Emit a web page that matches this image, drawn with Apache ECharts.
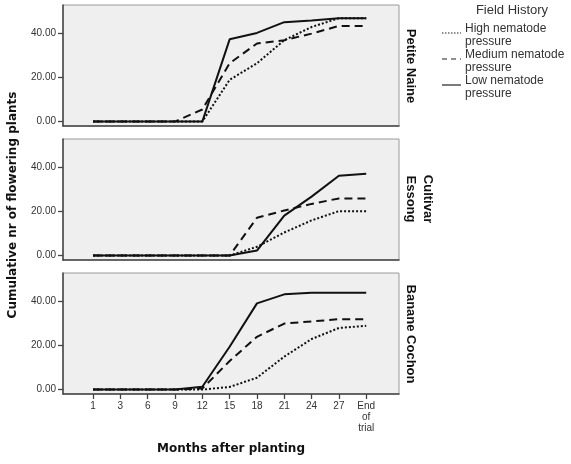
<!DOCTYPE html>
<html>
<head>
<meta charset="utf-8">
<script src="https://cdn.jsdelivr.net/npm/echarts@6/dist/echarts.min.js"></script>
<style>html,body{margin:0;padding:0;background:#fff}#c{width:571px;height:464px}</style>
</head>
<body>
<div id="c"></div>
<script>
var monthLabels = ['1','3','6','9','12','15','18','21','24','27','End\nof\ntrial'];
var yTicks = [0, 20, 40];
var cultivars = ['Petite Naine', 'Cultivar\nEssong', 'Banane Cochon'];
var historyNames = ['High nematode pressure', 'Medium nematode pressure', 'Low nematode pressure'];
var legendTitle = 'Field History';
var legendLabels = ['High nematode\npressure', 'Medium nematode\npressure', 'Low nematode\npressure'];
var xTitle = 'Months after planting';
var yTitle = 'Cumulative nr of flowering plants';

// Petite Naine
var pnHigh   = [0, 0, 0, 0, 0, 19, 26.5, 37, 43, 47, 47];
var pnMedium = [0, 0, 0, 0, 5.5, 26.5, 35.5, 37, 40, 43.5, 43.5];
var pnLow    = [0, 0, 0, 0, 0, 37.4, 40.3, 45.2, 46, 47, 47];
// Essong
var esHigh   = [0, 0, 0, 0, 0, 0, 4, 10.5, 16, 20.2, 20.2];
var esMedium = [0, 0, 0, 0, 0, 0, 17.2, 20.5, 23.5, 26, 26];
var esLow    = [0, 0, 0, 0, 0, 0, 2.3, 18.2, 26.8, 36.3, 37.2];
// Banane Cochon
var bcHigh   = [0, 0, 0, 0, 0, 1.2, 5.4, 15, 23, 28, 29];
var bcMedium = [0, 0, 0, 0, 0.5, 13, 24, 30, 31, 32, 32];
var bcLow    = [0, 0, 0, 0, 1.3, 19.5, 39.2, 43.3, 44, 44, 44];

var panels = [[pnHigh, pnMedium, pnLow], [esHigh, esMedium, esLow], [bcHigh, bcMedium, bcLow]];
var lineTypes = [[2, 2], [8, 5], 'solid'];

var chart = echarts.init(document.getElementById('c'), null, {renderer: 'canvas'});
var F = 'Arial, "Liberation Sans", sans-serif';
var FT = '"DejaVu Sans", Arial, sans-serif';
var grids = [], xAxes = [], yAxes = [], series = [];
var tops = [5, 139, 273];
var xIdx = monthLabels.map(function (_, i) { return i; });
for (var p = 0; p < 3; p++) {
  grids.push({left: 63, right: 172, top: tops[p], height: 121, show: true,
    backgroundColor: '#efefef', borderColor: '#9a9a9a', borderWidth: 1, containLabel: false});
  var last = p === 2;
  xAxes.push({type: 'value', gridIndex: p, min: -1.1, max: 11.2,
    splitLine: {show: false},
    axisLine: {show: true, onZero: false, lineStyle: {color: '#444', width: 1.5}},
    axisTick: {show: last, customValues: xIdx, length: 5, lineStyle: {color: '#444', width: 1.3}},
    axisLabel: {show: last, customValues: xIdx, margin: 7, color: '#333', fontSize: 10, fontFamily: F,
      lineHeight: 11, formatter: function (v) { return monthLabels[Math.round(v)]; }}
  });
  yAxes.push({type: 'value', gridIndex: p, min: -2, max: 53,
    splitLine: {show: false},
    axisLine: {show: true, onZero: false, lineStyle: {color: '#444', width: 1.5}},
    axisTick: {show: true, customValues: yTicks, length: 5, lineStyle: {color: '#444', width: 1.3}},
    axisLabel: {customValues: yTicks, margin: 7, color: '#333', fontSize: 10, fontFamily: F,
      formatter: function (v) { return v.toFixed(2); }}
  });
  for (var s = 0; s < 3; s++) {
    series.push({type: 'line', name: historyNames[s], xAxisIndex: p, yAxisIndex: p,
      data: panels[p][s].map(function (v, i) { return [i, v]; }),
      showSymbol: false, symbol: 'none', silent: true, animation: false,
      lineStyle: {color: '#111', width: 2, type: lineTypes[s]}
    });
  }
}

var graphic = [];
// strip labels
var stripY = [66, 199, 334];
for (var q = 0; q < 3; q++) {
  graphic.push({type: 'text', x: 402, y: stripY[q], rotation: -Math.PI / 2,
    style: {text: cultivars[q], font: 'bold 13px ' + F, fill: '#111', textAlign: 'center',
      textVerticalAlign: 'bottom', lineHeight: 17}});
}
// axis titles
graphic.push({type: 'text', x: 7, y: 205, rotation: Math.PI / 2,
  style: {text: yTitle, font: 'bold 12px ' + FT, fill: '#111', textAlign: 'center', textVerticalAlign: 'top'}});
graphic.push({type: 'text', x: 231, y: 443,
  style: {text: xTitle, font: 'bold 12px ' + FT, fill: '#111', textAlign: 'center', textVerticalAlign: 'top'}});
// legend
graphic.push({type: 'text', x: 512, y: 4,
  style: {text: legendTitle, font: '13px ' + F, fill: '#333', textAlign: 'center', textVerticalAlign: 'top'}});
var legY = [22, 48, 74];
for (var k = 0; k < 3; k++) {
  graphic.push({type: 'line', shape: {x1: 442, y1: legY[k] + 11, x2: 461, y2: legY[k] + 11},
    style: {stroke: '#222', lineWidth: 1.2, lineDash: k === 2 ? null : (k === 0 ? [1.5, 1.5] : [5, 4])}});
  graphic.push({type: 'text', x: 465, y: legY[k],
    style: {text: legendLabels[k], font: '12px ' + F, fill: '#333', textAlign: 'left', textVerticalAlign: 'top', lineHeight: 13}});
}

chart.setOption({
  animation: false,
  backgroundColor: '#fff',
  grid: grids, xAxis: xAxes, yAxis: yAxes, series: series, graphic: graphic
});
</script>
</body>
</html>
